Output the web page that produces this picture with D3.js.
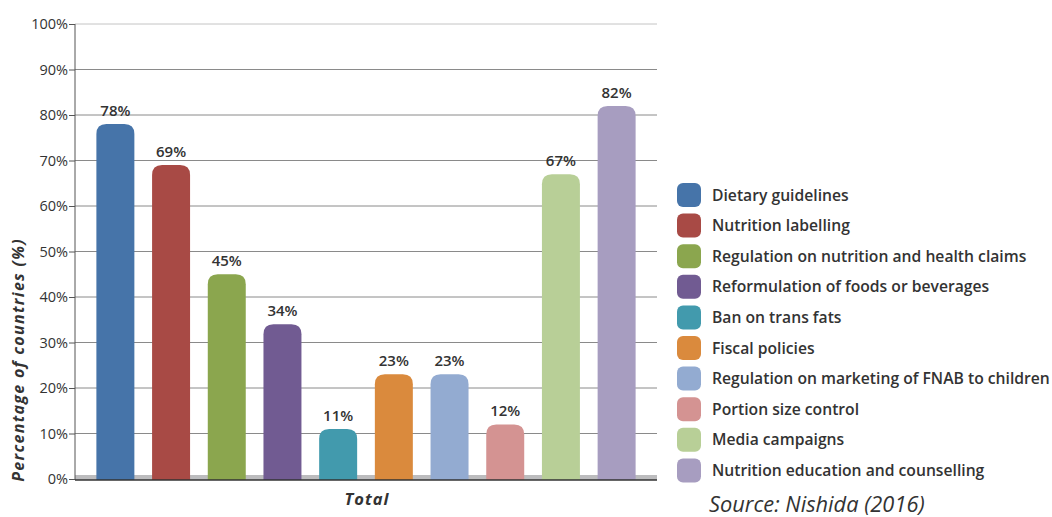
<!doctype html>
<html>
<head>
<meta charset="utf-8">
<title>Policy measures</title>
<script src="https://d3js.org/d3.v7.min.js"></script>
<style>
  body { margin: 0; background: #fff; }
  text { font-family: "Open Sans", sans-serif; fill: #333; }
</style>
</head>
<body>
<svg width="1052" height="517"></svg>
<script>
// data
let categories = ["Dietary guidelines", "Nutrition labelling", "Regulation on nutrition and health claims",
    "Reformulation of foods or beverages", "Ban on trans fats", "Fiscal policies",
    "Regulation on marketing of FNAB to children", "Portion size control", "Media campaigns",
    "Nutrition education and counselling"];
let values = [78, 69, 45, 34, 11, 23, 23, 12, 67, 82];
let colors = ["#4674a9", "#a84a45", "#8ba64e", "#715b92", "#429aad", "#da8a3d",
    "#93abd1", "#d49392", "#b8cf97", "#a79dc0"];
let yTicks = [0, 10, 20, 30, 40, 50, 60, 70, 80, 90, 100];

let svg = d3.select("svg");
let plotLeft = 75, plotRight = 657, plotTop = 24, plotBottom = 479;

let x = d3.scaleBand()
    .domain(categories)
    .range([plotLeft, plotRight])
    .paddingInner(0.318)
    .paddingOuter(0.384);

let y = d3.scaleLinear().domain([0, 100]).range([plotBottom, plotTop]);

// gridlines
svg.append("g")
    .selectAll("line")
    .data(yTicks.filter(d => d > 0))
    .enter()
    .append("line")
    .attr("x1", plotLeft).attr("x2", plotRight)
    .attr("y1", d => y(d)).attr("y2", d => y(d))
    .attr("stroke", d => d === 100 ? "#c4c4c4" : "#8a8a8a")
    .attr("stroke-width", 1);

// floor band
svg.append("rect")
    .attr("x", plotLeft).attr("y", plotBottom - 4)
    .attr("width", plotRight - plotLeft).attr("height", 5)
    .attr("fill", "#bcbcbe");

// y axis
let yAxis = d3.axisLeft(y)
    .tickValues(yTicks)
    .tickSize(6)
    .tickFormat(d => d + "%");
let ga = svg.append("g").attr("transform", "translate(" + plotLeft + ",0)").call(yAxis);
ga.select(".domain").attr("stroke", "#555").attr("d", "M0," + plotTop + "V" + (plotBottom + 1));
ga.selectAll(".tick line").attr("stroke", "#555");
ga.selectAll(".tick text").attr("font-size", 14.5).attr("fill", "#333").attr("x", -7)
    .style("font-family", "'Open Sans', sans-serif");

// bars with rounded tops
function barPath(d, i) {
    let x0 = x(categories[i]), w = x.bandwidth();
    let y0 = y(d), y1 = plotBottom + 1;
    let r = Math.min(10, (y1 - y0) / 2);
    return "M" + x0 + "," + y1 +
        "V" + (y0 + r) +
        "Q" + x0 + "," + y0 + " " + (x0 + r) + "," + y0 +
        "H" + (x0 + w - r) +
        "Q" + (x0 + w) + "," + y0 + " " + (x0 + w) + "," + (y0 + r) +
        "V" + y1 + "Z";
}

svg.append("g")
    .selectAll("path")
    .data(values)
    .enter()
    .append("path")
    .attr("d", barPath)
    .attr("fill", (d, i) => colors[i]);

// bottom axis line
svg.append("line")
    .attr("x1", plotLeft).attr("x2", plotRight)
    .attr("y1", plotBottom + 1).attr("y2", plotBottom + 1)
    .attr("stroke", "#333").attr("stroke-width", 1.5);

// value labels
svg.append("g")
    .selectAll("text")
    .data(values)
    .enter()
    .append("text")
    .attr("x", (d, i) => x(categories[i]) + x.bandwidth() / 2)
    .attr("y", d => y(d) - 8)
    .attr("text-anchor", "middle")
    .attr("font-size", 15)
    .attr("font-weight", 600)
    .text(d => d + "%");

// axis titles
svg.append("text")
    .attr("transform", "translate(24,360) rotate(-90)")
    .attr("text-anchor", "middle")
    .attr("font-size", 16)
    .attr("font-weight", "bold")
    .attr("font-style", "italic")
    .attr("letter-spacing", 1.3)
    .text("Percentage of countries (%)");

svg.append("text")
    .attr("x", 367).attr("y", 505)
    .attr("text-anchor", "middle")
    .attr("font-size", 16.5)
    .attr("font-weight", "bold")
    .attr("font-style", "italic")
    .attr("letter-spacing", 1)
    .text("Total");

// legend
let legend = svg.append("g")
    .selectAll("g")
    .data(categories)
    .enter()
    .append("g")
    .attr("transform", (d, i) => "translate(677," + (195 + i * 30.6) + ")");

legend.append("rect")
    .attr("x", 0).attr("y", -12)
    .attr("width", 24).attr("height", 24)
    .attr("rx", 6)
    .attr("fill", (d, i) => colors[i]);

legend.append("text")
    .attr("x", 35).attr("y", 5.5)
    .attr("font-size", 15.7)
    .attr("font-weight", 600)
    .text(d => d);

svg.append("text")
    .attr("x", 709).attr("y", 512)
    .attr("font-size", 21.8)
    .attr("font-style", "italic")
    .attr("fill", "#444")
    .text("Source: Nishida (2016)");
</script>
</body>
</html>
